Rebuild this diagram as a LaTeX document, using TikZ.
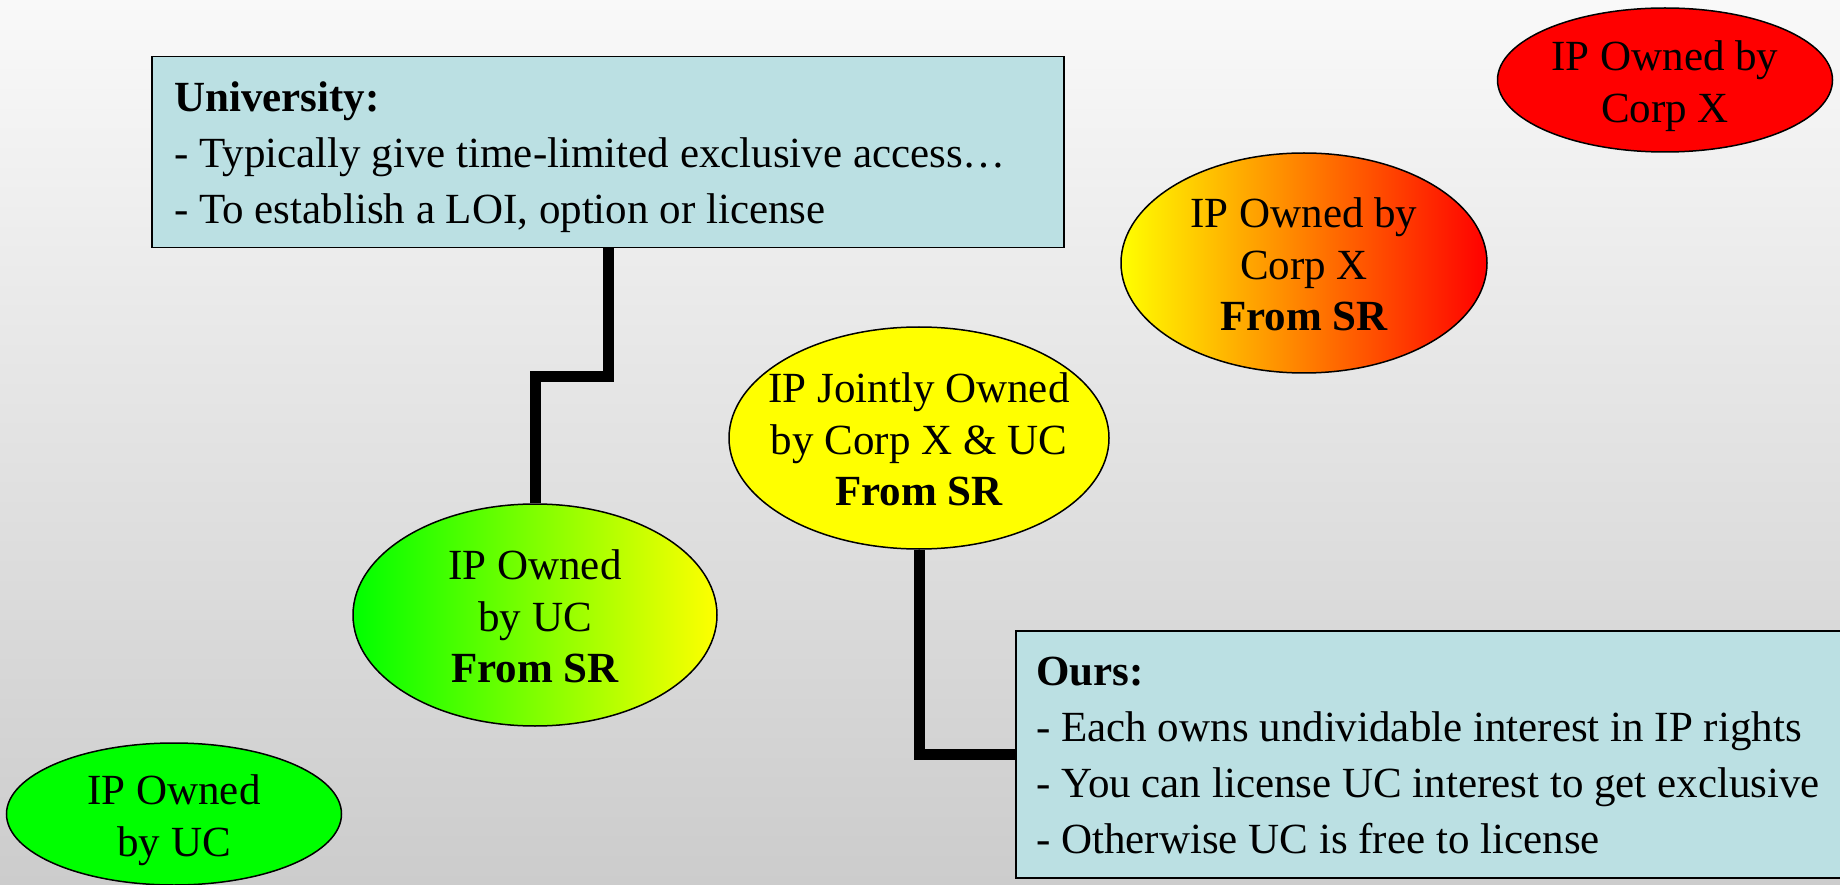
\documentclass[tikz,border=0pt]{standalone}
\usepackage{fontspec}
\setmainfont{Liberation Serif}
\usetikzlibrary{shapes.geometric}
\definecolor{bgtop}{RGB}{249,249,249}
\definecolor{bgbot}{RGB}{204,204,204}
\definecolor{notefill}{RGB}{187,224,227}
\definecolor{puregreen}{RGB}{0,255,0}
\definecolor{purered}{RGB}{255,0,0}
\definecolor{pureyellow}{RGB}{255,255,0}
\begin{document}
\begin{tikzpicture}[x=1pt,y=-1pt,
  notebox/.style={rectangle, draw=black, line width=1.5pt, fill=notefill,
    inner sep=0pt, anchor=north west},
  notetext/.style={anchor=base west, inner sep=0pt,
    font=\fontsize{43}{56}\selectfont},
  blob/.style={ellipse, draw=black, line width=1.5pt, inner sep=0pt},
  blobtext/.style={inner sep=0pt, font=\fontsize{43}{51.6}\selectfont},
  conn/.style={line width=11pt, black, line join=miter, line cap=butt}]

\useasboundingbox (0,0) rectangle (1840,885);
\clip (0,0) rectangle (1840,885);

% backdrop
\shade[top color=bgtop, bottom color=bgbot] (0,0) rectangle (1840,885);

% note boxes
\node[notebox, minimum width=912pt, minimum height=191pt] (uni) at (151,56) {};
\node[notetext] (unitext) at (174,112) {\begin{tabular}[t]{@{}l@{}}
  \textbf{University:}\\
  - Typically give time-limited exclusive access…\\
  - To establish a LOI, option or license
\end{tabular}};

\node[notebox, minimum width=850pt, minimum height=247pt] (ours) at (1015,630) {};
\node[notetext] (ourstext) at (1036,685) {\begin{tabular}[t]{@{}l@{}}
  \textbf{Ours:}\\
  - Each owns undividable interest in IP rights\\
  - You can license UC interest to get exclusive\\
  - Otherwise UC is free to license
\end{tabular}};

% ownership ellipses
\node[blob, minimum width=335pt, minimum height=144pt, fill=purered] (corpx) at (1665,80) {};
\node[blobtext] (corpxlbl) at ([yshift=-6pt]corpx.center)
  {\begin{tabular}{@{}c@{}}IP Owned by\\Corp X\end{tabular}};

\node[blob, minimum width=366pt, minimum height=220pt,
  left color=pureyellow, right color=purered] (corpxsr) at (1304,263) {};
\node[blobtext] (corpxsrlbl) at ([yshift=-6pt]corpxsr.center)
  {\begin{tabular}{@{}c@{}}IP Owned by\\Corp X\\\textbf{From SR}\end{tabular}};

\node[blob, minimum width=380pt, minimum height=222pt, fill=pureyellow] (joint) at (919,438) {};
\node[blobtext] (jointlbl) at ([yshift=-6pt]joint.center)
  {\begin{tabular}{@{}c@{}}IP Jointly Owned\\by Corp X \& UC\\\textbf{From SR}\end{tabular}};

\node[blob, minimum width=364pt, minimum height=222pt,
  left color=puregreen, right color=pureyellow] (ucsr) at (535,615) {};
\node[blobtext] (ucsrlbl) at ([yshift=-6pt]ucsr.center)
  {\begin{tabular}{@{}c@{}}IP Owned\\by UC\\\textbf{From SR}\end{tabular}};

\node[blob, minimum width=335pt, minimum height=142pt, fill=puregreen] (uc) at (174,814) {};
\node[blobtext] (uclbl) at ([yshift=-6pt]uc.center)
  {\begin{tabular}{@{}c@{}}IP Owned\\by UC\end{tabular}};

% elbow connectors
\draw[conn] ([xshift=457pt]uni.south west) -- ++(0,128) -| (ucsr.north);
\draw[conn] (joint.south) |- (ours.west);
\end{tikzpicture}
\end{document}
